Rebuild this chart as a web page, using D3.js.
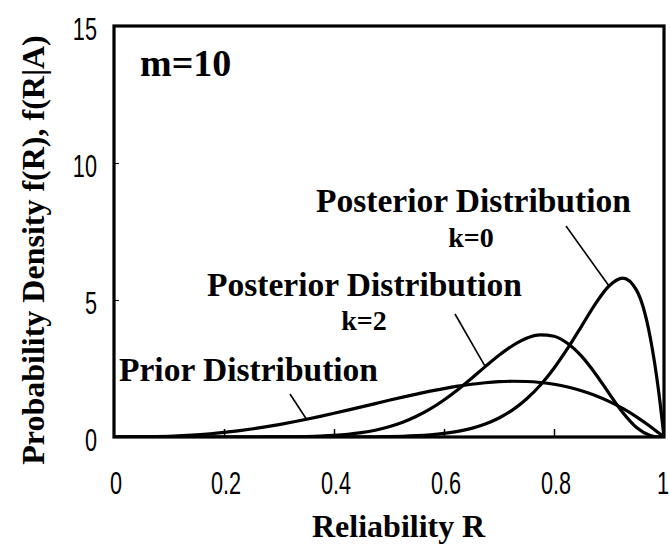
<!DOCTYPE html>
<html><head><meta charset="utf-8">
<script src="https://cdn.jsdelivr.net/npm/d3@7/dist/d3.min.js"></script>
<style>body{margin:0;background:#fff}svg{display:block}</style>
</head><body><svg id="c" width="670" height="549"></svg>
<script>
// Reliability grid
const R = [0,0.025,0.05,0.075,0.1,0.125,0.15,0.175,0.2,0.225,0.25,0.275,0.3,0.325,0.35,0.375,0.4,0.425,0.45,0.475,0.5,0.525,0.55,0.575,0.6,0.625,0.65,0.675,0.7,0.725,0.75,0.775,0.8,0.825,0.85,0.875,0.9,0.925,0.95,0.975,0.99,1];
// Prior distribution f(R)
const prior = [0,0.001,0.004,0.013,0.027,0.049,0.080,0.119,0.168,0.226,0.293,0.369,0.454,0.547,0.648,0.755,0.866,0.982,1.100,1.220,1.339,1.455,1.566,1.672,1.768,1.854,1.925,1.981,2.019,2.035,2.026,1.990,1.924,1.825,1.690,1.517,1.302,1.042,0.737,0.385,0.155,0];
// Posterior distribution k=2
const postK2 = [0,0,0,0,0,0,0,0,0,0,0,0.002,0.004,0.009,0.018,0.033,0.058,0.098,0.159,0.248,0.372,0.538,0.756,1.026,1.352,1.726,2.138,2.568,2.980,3.340,3.607,3.729,3.676,3.411,2.950,2.319,1.593,0.893,0.347,0.056,0.004,0];
// Posterior distribution k=0
const postK0 = [0,0,0,0,0,0,0,0,0,0,0,0,0,0,0,0,0.001,0.002,0.005,0.009,0.016,0.028,0.048,0.080,0.130,0.205,0.315,0.472,0.693,0.991,1.385,1.889,2.51,3.24,4.04,4.85,5.51,5.80,5.36,3.63,1.71,0];

const xTicks = [0,0.2,0.4,0.6,0.8,1];
const xTickLabels = ["0","0.2","0.4","0.6","0.8","1"];
const yTicks = [0,5,10,15];
const yTickLabels = ["0","5","10","15"];

const svg = d3.select("#c");
const L = 114, Rt = 664, T = 26, B = 437;
const x = d3.scaleLinear().domain([0,1]).range([L,Rt]);
const y = d3.scaleLinear().domain([0,15]).range([B,T]);

const serif = "'Liberation Serif','Times New Roman',serif";
const sans = "'Liberation Sans',Arial,sans-serif";

svg.append("clipPath").attr("id","clip").append("rect")
  .attr("x",L).attr("y",T).attr("width",Rt-L).attr("height",B-T);

// inner ticks
const xAxis = d3.axisTop(x).tickValues(xTicks.slice(1,-1)).tickSize(8).tickFormat("");
svg.append("g").attr("transform",`translate(0,${B})`).call(xAxis)
  .call(g=>g.select(".domain").remove())
  .call(g=>g.selectAll("line").attr("stroke","#000").attr("stroke-width",1.5));
const yAxis = d3.axisRight(y).tickValues(yTicks.slice(1,-1)).tickSize(5).tickFormat("");
svg.append("g").attr("transform",`translate(${L},0)`).call(yAxis)
  .call(g=>g.select(".domain").remove())
  .call(g=>g.selectAll("line").attr("stroke","#000").attr("stroke-width",1));

// curves
const line = d3.line().x((d,i)=>x(R[i])).y(d=>y(d)).curve(d3.curveMonotoneX);
const gC = svg.append("g").attr("clip-path","url(#clip)");
[prior, postK2, postK0].forEach(s=>{
  gC.append("path").attr("d",line(s)).attr("fill","none")
    .attr("stroke","#000").attr("stroke-width",3.2).attr("stroke-linejoin","round");
});

// frame
svg.append("rect").attr("x",L).attr("y",T).attr("width",Rt-L).attr("height",B-T)
  .attr("fill","none").attr("stroke","#000").attr("stroke-width",3.2);

// tick labels (narrow, tall digits)
xTicks.forEach((v,i)=>{
  const px = Math.min(x(v)+2, 663);
  svg.append("g").attr("transform",`translate(${px},494)`)
    .append("text").attr("transform","scale(0.7,1)")
    .attr("text-anchor","middle").attr("font-family",sans).attr("font-size",31)
    .text(xTickLabels[i]);
});
yTicks.forEach((v,i)=>{
  svg.append("g").attr("transform",`translate(97,${y(v)+14})`)
    .append("text").attr("transform","scale(0.7,1)")
    .attr("text-anchor","end").attr("font-family",sans).attr("font-size",31)
    .text(yTickLabels[i]);
});

// axis titles
svg.append("text").attr("x",312).attr("y",537).attr("font-family",serif)
  .attr("font-weight","bold").attr("font-size",32).text("Reliability");
svg.append("text").attr("x",462).attr("y",537).attr("font-family",serif)
  .attr("font-weight","bold").attr("font-size",32).text("R");
svg.append("text").attr("transform","translate(44,250) rotate(-90)")
  .attr("text-anchor","middle").attr("font-family",serif)
  .attr("font-weight","bold").attr("font-size",32).text("Probability Density f(R), f(R|A)");

// annotations
function lbl(t,xx,yy,size,anchor){
  svg.append("text").attr("x",xx).attr("y",yy).attr("font-family",serif)
    .attr("font-weight","bold").attr("font-size",size).attr("text-anchor",anchor||"start").text(t);
}
lbl("m=10",140,76,38);
lbl("Posterior Distribution",316,212,33.5);
lbl("k=0",471,247,28,"middle");
lbl("Posterior Distribution",207,296,33.5);
lbl("k=2",364,330,28,"middle");
lbl("Prior Distribution",119,381,33.5);

// leader lines: from label to a point on the curve
function leader(x1,y1,rv,series){
  const idx = R.indexOf(rv);
  svg.append("line").attr("x1",x1).attr("y1",y1)
    .attr("x2",x(rv)).attr("y2",y(series[idx]))
    .attr("stroke","#000").attr("stroke-width",1.6);
}
leader(566,226,0.9,postK0);
leader(455,314,0.675,postK2);
leader(290,394,0.35,prior);
</script>
</body></html>
